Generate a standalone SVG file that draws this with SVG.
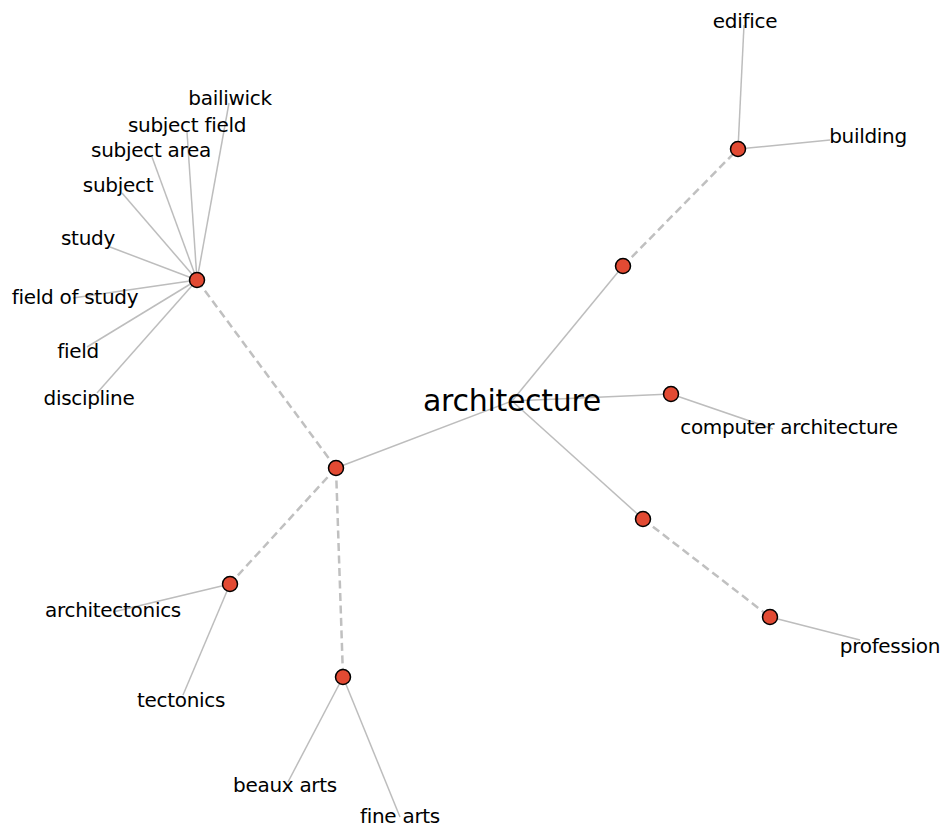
<svg xmlns="http://www.w3.org/2000/svg" width="942" height="828" viewBox="0 0 942 828">
  <style>
    .edge { stroke: #bdbdbd; stroke-width: 1.5; fill: none; }
    .dash { stroke: #c0c0c0; stroke-width: 2.5; fill: none; stroke-dasharray: 8 4.5; }
    .node { fill: #e24a33; stroke: #000; stroke-width: 1.5; }
    .lbl { font-family: "DejaVu Sans", "Liberation Sans", sans-serif; font-size: 20px; fill: #000; text-anchor: middle; letter-spacing: -0.3px; }
    .root { font-size: 30px; }
  </style>
  <rect width="942" height="828" fill="#fff"/>
  <g id="connectors">
    <!-- root to the synset hubs -->
    <line class="edge" x1="512" y1="401" x2="336" y2="468"/>
    <line class="edge" x1="512" y1="401" x2="623" y2="266"/>
    <line class="edge" x1="512" y1="401" x2="671" y2="394"/>
    <line class="edge" x1="512" y1="401" x2="643" y2="519"/>
    <!-- hypernym links -->
    <line class="dash" x1="336" y1="468" x2="197" y2="280"/>
    <line class="dash" x1="336" y1="468" x2="230" y2="584"/>
    <line class="dash" x1="336" y1="468" x2="343" y2="677"/>
    <line class="dash" x1="623" y1="266" x2="738" y2="149"/>
    <line class="dash" x1="643" y1="519" x2="770" y2="617"/>
    <!-- lemma links -->
    <line class="edge" x1="197" y1="280" x2="229" y2="103"/>
    <line class="edge" x1="197" y1="280" x2="187" y2="132"/>
    <line class="edge" x1="197" y1="280" x2="152" y2="157"/>
    <line class="edge" x1="197" y1="280" x2="122" y2="193"/>
    <line class="edge" x1="197" y1="280" x2="110" y2="247"/>
    <line class="edge" x1="197" y1="280" x2="73" y2="298"/>
    <line class="edge" x1="197" y1="280" x2="87" y2="347"/>
    <line class="edge" x1="197" y1="280" x2="97" y2="393"/>
    <line class="edge" x1="738" y1="149" x2="744" y2="25"/>
    <line class="edge" x1="738" y1="149" x2="830" y2="140"/>
    <line class="edge" x1="671" y1="394" x2="773" y2="429"/>
    <line class="edge" x1="770" y1="617" x2="860" y2="640"/>
    <line class="edge" x1="230" y1="584" x2="113" y2="612"/>
    <line class="edge" x1="230" y1="584" x2="183" y2="695"/>
    <line class="edge" x1="343" y1="677" x2="288" y2="782"/>
    <line class="edge" x1="343" y1="677" x2="400" y2="817"/>
  </g>
  <g id="n-root"><text class="lbl root" x="512" y="411">architecture</text></g>
  <g id="n-field-hub"><circle class="node" cx="197" cy="280" r="7.5"/></g>
  <g id="n-mid"><circle class="node" cx="336" cy="468" r="7.5"/></g>
  <g id="n-tect-hub"><circle class="node" cx="230" cy="584" r="7.5"/></g>
  <g id="n-arts-hub"><circle class="node" cx="343" cy="677" r="7.5"/></g>
  <g id="n-struct"><circle class="node" cx="623" cy="266" r="7.5"/></g>
  <g id="n-building-hub"><circle class="node" cx="738" cy="149" r="7.5"/></g>
  <g id="n-comp-hub"><circle class="node" cx="671" cy="394" r="7.5"/></g>
  <g id="n-occupation"><circle class="node" cx="643" cy="519" r="7.5"/></g>
  <g id="n-prof-hub"><circle class="node" cx="770" cy="617" r="7.5"/></g>
  <g id="l-bailiwick"><text class="lbl" x="230" y="105">bailiwick</text></g>
  <g id="l-subject-field"><text class="lbl" x="187" y="132">subject field</text></g>
  <g id="l-subject-area"><text class="lbl" x="151" y="157">subject area</text></g>
  <g id="l-subject"><text class="lbl" x="118" y="192">subject</text></g>
  <g id="l-study"><text class="lbl" x="88" y="245">study</text></g>
  <g id="l-field-of-study"><text class="lbl" x="75" y="304">field of study</text></g>
  <g id="l-field"><text class="lbl" x="78" y="358">field</text></g>
  <g id="l-discipline"><text class="lbl" x="89" y="405">discipline</text></g>
  <g id="l-edifice"><text class="lbl" x="745" y="28">edifice</text></g>
  <g id="l-building"><text class="lbl" x="868" y="143">building</text></g>
  <g id="l-computer-architecture"><text class="lbl" x="789" y="434">computer architecture</text></g>
  <g id="l-profession"><text class="lbl" x="890" y="653">profession</text></g>
  <g id="l-architectonics"><text class="lbl" x="113" y="617">architectonics</text></g>
  <g id="l-tectonics"><text class="lbl" x="181" y="707">tectonics</text></g>
  <g id="l-beaux-arts"><text class="lbl" x="285" y="792">beaux arts</text></g>
  <g id="l-fine-arts"><text class="lbl" x="400" y="823">fine arts</text></g>
</svg>
